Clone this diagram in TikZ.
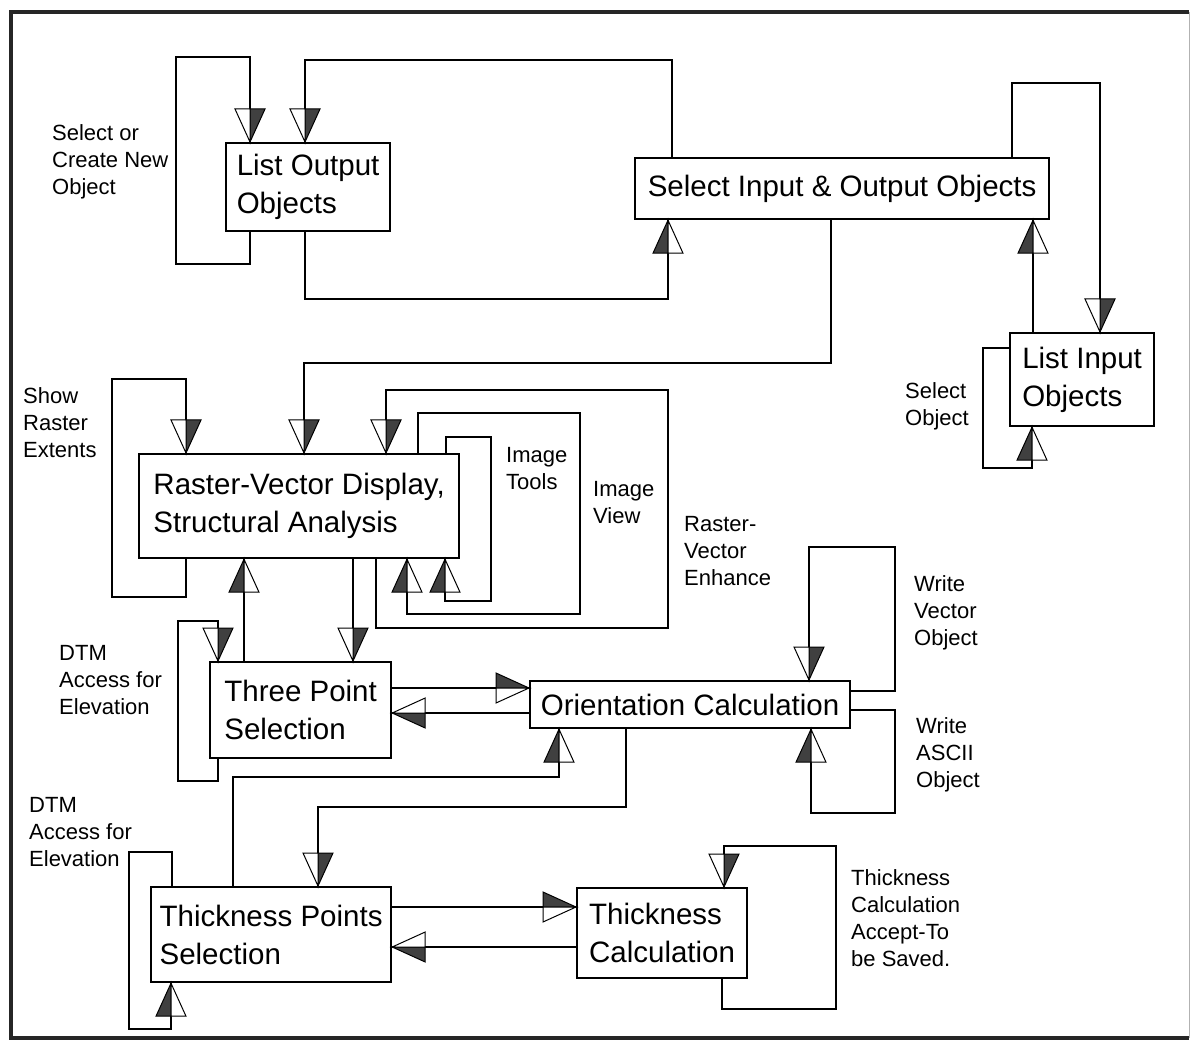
\documentclass[tikz,border=0pt]{standalone}
\usepackage{fontspec}
\setmainfont{Liberation Sans}
\usetikzlibrary{decorations.markings}
\definecolor{hdark}{HTML}{404040}
\newcommand\halfhead{%
  \filldraw[line width=1pt, fill=hdark, draw=black, line join=miter] (0pt,0pt) -- (-33pt,15pt) -- (-33pt,0pt) -- cycle;
  \filldraw[line width=1pt, fill=white, draw=black, line join=miter] (0pt,0pt) -- (-33pt,-15pt) -- (-33pt,0pt) -- cycle;
}
\begin{document}
\begin{tikzpicture}[x=1pt,y=-1pt, line join=miter,
  conn/.style={draw=black, line width=2.2pt},
  harr/.style={conn, postaction={decorate, decoration={markings, mark=at position 0.99999 with {\halfhead}}}},
  box/.style={draw=black, line width=2.2pt, fill=white, inner sep=0pt, anchor=north west, align=left, font=\fontsize{29.5}{38}\selectfont},
  lbl/.style={inner sep=0pt, anchor=north west, align=left, font=\fontsize{22}{27}\selectfont},
]
\useasboundingbox (0,0) rectangle (1201,1043);
% frame
\draw[line width=3.5pt, black!85] (1189,12) -- (11,12) -- (11,1038) -- (1189,1038);
\draw[line width=1pt, black!30] (1189,12) -- (1189,1038);

% boxes
\node[box, minimum width=164pt, minimum height=88pt] (lo) at (225,142) {List Output\\Objects};
\node[box, minimum width=414pt, minimum height=61pt] (sio) at (634,157) {Select Input \& Output Objects};
\node[box, minimum width=144pt, minimum height=93pt] (li) at (1009,332) {List Input\\Objects};
\node[box, minimum width=320pt, minimum height=104pt] (rv) at (138,453) {Raster-Vector Display,\\Structural Analysis};
\node[box, minimum width=181pt, minimum height=96pt] (tp) at (209,661) {Three Point\\Selection};
\node[box, minimum width=320pt, minimum height=47pt] (oc) at (529,680) {Orientation Calculation};
\node[box, minimum width=240pt, minimum height=95pt] (tps) at (150,886) {Thickness Points\\Selection};
\node[box, minimum width=170pt, minimum height=90pt] (tc) at (576,887) {Thickness\\Calculation};

% labels
\node[lbl] (l1) at (52,124) {Select or\\Create New\\Object};
\node[lbl] (l2) at (905,382) {Select\\Object};
\node[lbl] (l3) at (23,387) {Show\\Raster\\Extents};
\node[lbl] (l4) at (506,447) {Image\\Tools};
\node[lbl] (l5) at (593,481) {Image\\View};
\node[lbl] (l6) at (684,516) {Raster-\\Vector\\Enhance};
\node[lbl] (l7) at (914,575) {Write\\Vector\\Object};
\node[lbl] (l8) at (916,717) {Write\\ASCII\\Object};
\node[lbl] (l9) at (59,645) {DTM\\Access for\\Elevation};
\node[lbl] (l10) at (29,797) {DTM\\Access for\\Elevation};
\node[lbl] (l11) at (851,869) {Thickness\\Calculation\\Accept-To\\be Saved.};

% connectors
\draw[harr] ([xshift=25pt]lo.south west) -- ++(0,32) -- ++(-74,0) -- ++(0,-207) -| ([xshift=25pt]lo.north west);
\draw[harr] ([xshift=38pt]sio.north west) -- ++(0,-97) -| ([xshift=80pt]lo.north west);
\draw[harr] ([xshift=80pt]lo.south west) -- ++(0,67) -| ([xshift=34pt]sio.south west);
\draw[harr] ([xshift=197pt]sio.south west) -- ++(0,143) -| ([xshift=166pt]rv.north west);
\draw[harr] ([xshift=378pt]sio.north west) -- ++(0,-74) -| ([xshift=91pt]li.north west);
\draw[harr] ([xshift=24pt]li.north west) -- ([xshift=399pt]sio.south west);
\draw[harr] ([yshift=-16pt]li.north west) -- ++(-26,0) -- ++(0,120) -| ([xshift=23pt]li.south west);

\draw[harr] ([xshift=48pt]rv.south west) -- ++(0,38) -- ++(-74,0) -- ++(0,-218) -| ([xshift=48pt]rv.north west);
\draw[harr] ([xshift=238pt]rv.south west) -- ++(0,69) -- ++(292,0) -- ++(0,-238) -| ([xshift=248pt]rv.north west);
\draw[harr] ([xshift=280pt]rv.north west) -- ++(0,-40) -- ++(162,0) -- ++(0,201) -| ([xshift=269pt]rv.south west);
\draw[harr] ([xshift=308pt]rv.north west) -- ++(0,-16) -- ++(45,0) -- ++(0,164) -| ([xshift=307pt]rv.south west);

\draw[harr] ([xshift=35pt]tp.north west) -- ([xshift=106pt]rv.south west);
\draw[harr] ([xshift=215pt]rv.south west) -- ([xshift=144pt]tp.north west);
\draw[harr] ([xshift=9pt]tp.south west) -- ++(0,22) -- ++(-40,0) -- ++(0,-160) -| ([xshift=9pt]tp.north west);

\draw[harr] ([yshift=-27pt]tp.north east) -- ([yshift=-8pt]oc.north west);
\draw[harr] ([yshift=-33pt]oc.north west) -- ([yshift=-52pt]tp.north east);
\draw[harr] ([yshift=-11pt]oc.north east) -- ++(44,0) -- ++(0,-144) -| ([xshift=280pt]oc.north west);
\draw[harr] ([yshift=-30pt]oc.north east) -- ++(44,0) -- ++(0,103) -| ([xshift=282pt]oc.south west);

\draw[harr] ([xshift=83pt]tps.north west) -- ++(0,-109) -| ([xshift=30pt]oc.south west);
\draw[harr] ([xshift=97pt]oc.south west) -- ++(0,78) -| ([xshift=168pt]tps.north west);
\draw[harr] ([xshift=22pt]tps.north west) -- ++(0,-34) -- ++(-43,0) -- ++(0,177) -| ([xshift=21pt]tps.south west);

\draw[harr] ([yshift=-21pt]tps.north east) -- ([yshift=-20pt]tc.north west);
\draw[harr] ([yshift=-60pt]tc.north west) -- ([yshift=-61pt]tps.north east);
\draw[harr] ([xshift=146pt]tc.south west) -- ++(0,30) -- ++(114,0) -- ++(0,-163) -| ([xshift=148pt]tc.north west);
\end{tikzpicture}
\end{document}
